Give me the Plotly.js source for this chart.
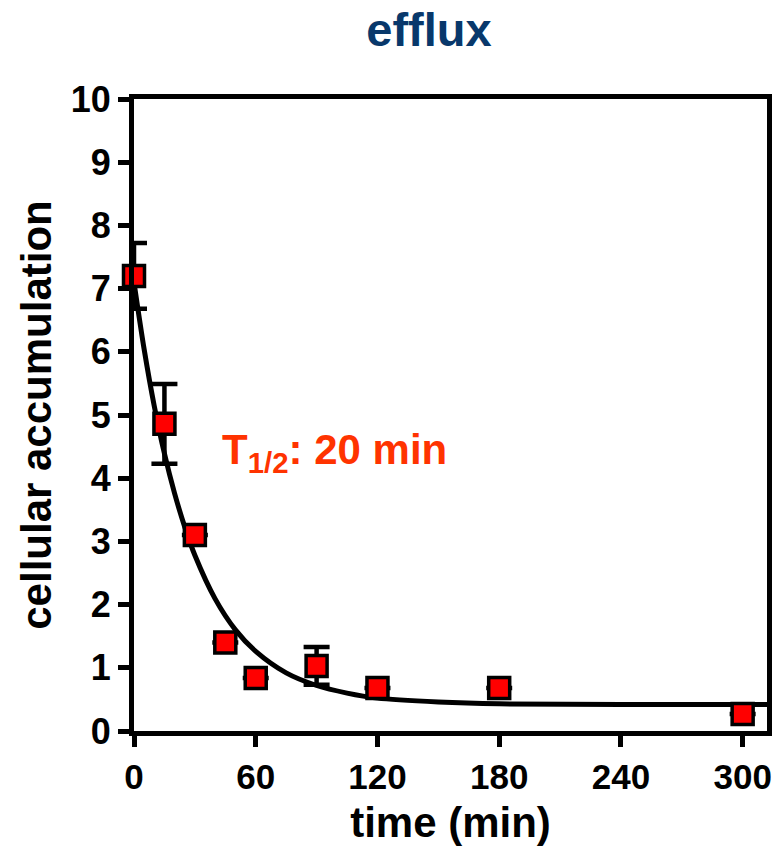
<!DOCTYPE html>
<html>
<head>
<meta charset="utf-8">
<script src="https://cdn.plot.ly/plotly-3.0.1.min.js"></script>
<style>html,body{margin:0;padding:0;background:#fff}#chart{width:779px;height:851px}</style>
</head>
<body>
<div id="chart"></div>
<script>
// Measured data points (time in min, cellular accumulation, SEM)
// Errors hidden behind the symbols in the reference are left empty (null)
const timeMin = [0, 15, 30, 45, 60, 90, 120, 180, 300];
const accumulation = [7.20, 4.86, 3.10, 1.40, 0.84, 1.03, 0.68, 0.68, 0.27];
const errorSEM = [0.52, 0.63, null, null, null, 0.30, null, null, null];

// Fitted decay curve
const fitTime = [0, 5, 10, 15, 20, 25, 30, 40, 50, 60, 75, 90, 105, 120, 150, 180, 240, 312];
const fitValue = [7.10, 6.04, 5.14, 4.39, 3.76, 3.23, 2.78, 2.09, 1.60, 1.26, 0.92, 0.72, 0.60, 0.52, 0.46, 0.43, 0.42, 0.42];

const xTicks = [0, 60, 120, 180, 240, 300];
const yTicks = [0, 1, 2, 3, 4, 5, 6, 7, 8, 9, 10];

const F = 'Liberation Sans, Arial, sans-serif';

const traces = [
  {
    x: fitTime, y: fitValue, type: 'scatter', mode: 'lines',
    line: {color: '#000', width: 5, shape: 'spline', smoothing: 0.8},
    hoverinfo: 'skip', cliponaxis: false
  },
  {
    x: timeMin, y: accumulation, type: 'scatter', mode: 'markers',
    marker: {symbol: 'square', size: 21, color: '#ff0000', line: {color: '#000', width: 3.5}},
    error_y: {type: 'data', array: errorSEM, visible: true, color: '#000', thickness: 4.5, width: 13},
    cliponaxis: false
  }
];

const layout = {
  width: 779, height: 851,
  margin: {l: 134, r: 12, t: 99, b: 120},
  paper_bgcolor: '#fff', plot_bgcolor: '#fff',
  showlegend: false,
  font: {family: F, color: '#000', weight: 'bold'},
  title: {
    text: 'efflux', x: 429/779, xref: 'container', xanchor: 'center',
    y: 1 - 30/851, yref: 'container', yanchor: 'middle',
    font: {family: F, size: 47, color: '#08386b', weight: 'bold'}
  },
  xaxis: {
    range: [0, 312], tickvals: xTicks, ticktext: xTicks.map(String),
    showgrid: false, zeroline: false,
    showline: true, linecolor: '#000', linewidth: 5, mirror: true,
    ticks: 'outside', ticklen: 11, tickwidth: 5, tickcolor: '#000',
    tickfont: {family: F, size: 35, color: '#000', weight: 'bold'},
    title: {text: 'time (min)', standoff: 14, font: {family: F, size: 42, color: '#000', weight: 'bold'}}
  },
  yaxis: {
    range: [0, 10], tickvals: yTicks, ticktext: yTicks.map(String),
    showgrid: false, zeroline: false,
    showline: true, linecolor: '#000', linewidth: 5, mirror: true,
    ticks: 'outside', ticklen: 11, tickwidth: 5, tickcolor: '#000',
    tickfont: {family: F, size: 36, color: '#000', weight: 'bold'},
    title: {text: 'cellular accumulation', standoff: 8, font: {family: F, size: 42, color: '#000', weight: 'bold'}}
  },
  annotations: [
    {
      text: 'T<sub>1/2</sub>: 20 min', xref: 'paper', yref: 'paper',
      x: 0.136, y: 0.44, xanchor: 'left', yanchor: 'middle', showarrow: false,
      font: {family: F, size: 42, color: '#ff3300', weight: 'bold'}
    }
  ]
};

Plotly.newPlot('chart', traces, layout, {displayModeBar: false, staticPlot: true});
</script>
</body>
</html>
